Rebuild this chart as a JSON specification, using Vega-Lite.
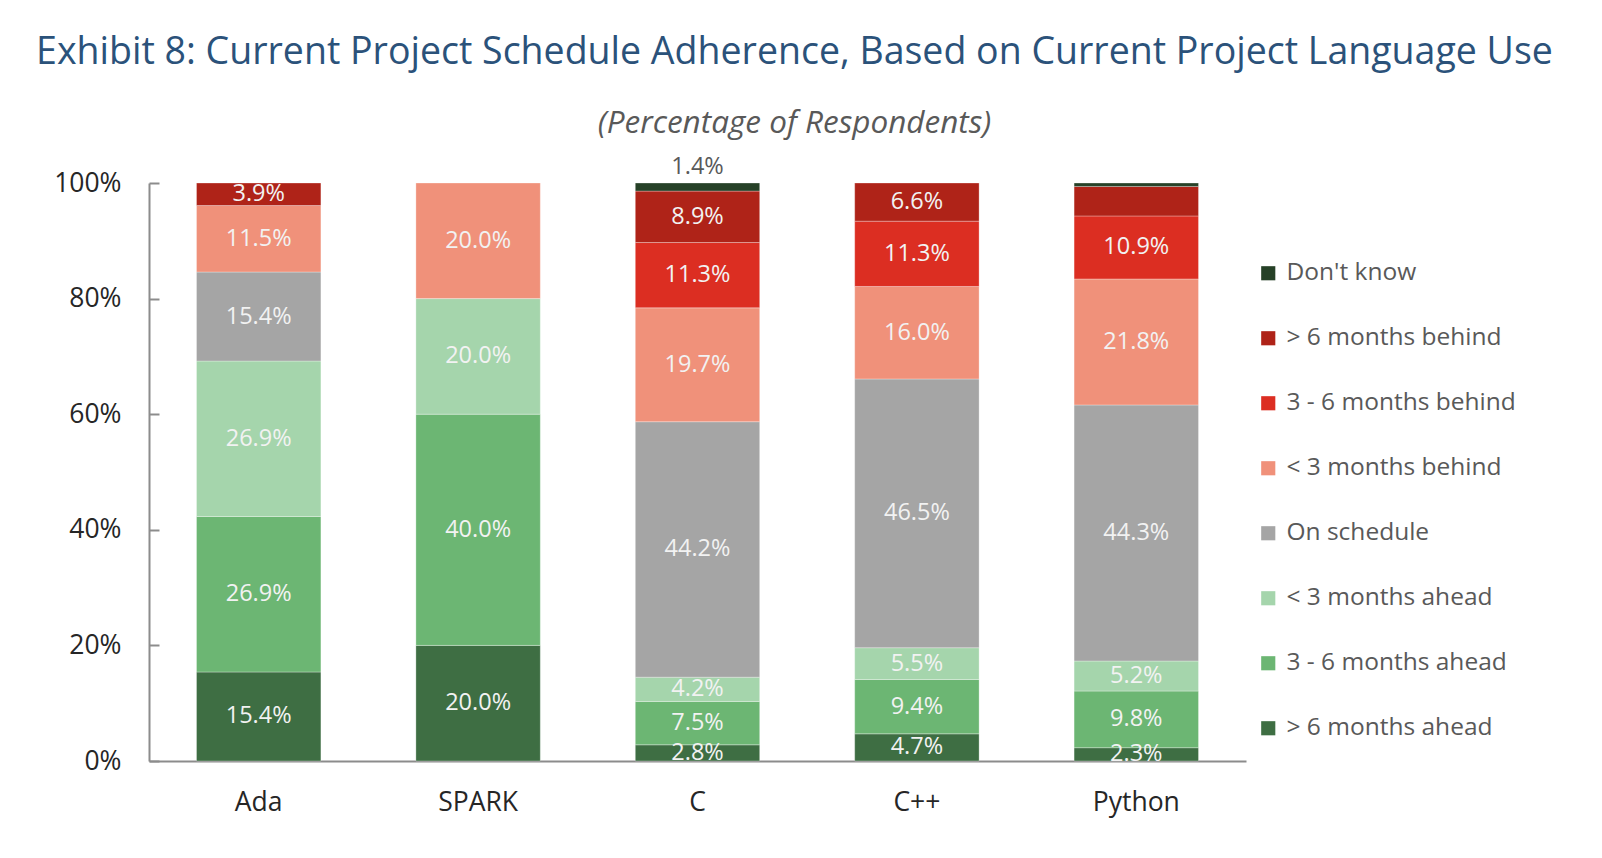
{
  "$schema": "https://vega.github.io/schema/vega-lite/v6.json",
  "autosize": "none",
  "width": 1097,
  "height": 578,
  "padding": {"left": 149, "top": 183, "right": 356, "bottom": 97},
  "background": "white",
  "view": {"stroke": null},
  "title": {
    "text": "Exhibit 8: Current Project Schedule Adherence, Based on Current Project Language Use",
    "subtitle": "(Percentage of Respondents)",
    "anchor": "middle",
    "frame": "group",
    "dx": 97,
    "offset": 16,
    "font": "Open Sans",
    "fontSize": 37.5,
    "fontWeight": "normal",
    "color": "#2B527A",
    "subtitleFont": "Open Sans",
    "subtitleFontSize": 31.5,
    "subtitleFontStyle": "italic",
    "subtitleColor": "#595959",
    "subtitlePadding": 36
  },
  "data": {
    "values": [
      {"lang": "Ada", "status": "> 6 months ahead", "pct": 15.4, "labelled": true},
      {"lang": "Ada", "status": "3 - 6 months ahead", "pct": 26.9, "labelled": true},
      {"lang": "Ada", "status": "< 3 months ahead", "pct": 26.9, "labelled": true},
      {"lang": "Ada", "status": "On schedule", "pct": 15.4, "labelled": true},
      {"lang": "Ada", "status": "< 3 months behind", "pct": 11.5, "labelled": true},
      {"lang": "Ada", "status": "> 6 months behind", "pct": 3.9, "labelled": true},
      {"lang": "SPARK", "status": "> 6 months ahead", "pct": 20.0, "labelled": true},
      {"lang": "SPARK", "status": "3 - 6 months ahead", "pct": 40.0, "labelled": true},
      {"lang": "SPARK", "status": "< 3 months ahead", "pct": 20.0, "labelled": true},
      {"lang": "SPARK", "status": "< 3 months behind", "pct": 20.0, "labelled": true},
      {"lang": "C", "status": "> 6 months ahead", "pct": 2.8, "labelled": true},
      {"lang": "C", "status": "3 - 6 months ahead", "pct": 7.5, "labelled": true},
      {"lang": "C", "status": "< 3 months ahead", "pct": 4.2, "labelled": true},
      {"lang": "C", "status": "On schedule", "pct": 44.2, "labelled": true},
      {"lang": "C", "status": "< 3 months behind", "pct": 19.7, "labelled": true},
      {"lang": "C", "status": "3 - 6 months behind", "pct": 11.3, "labelled": true},
      {"lang": "C", "status": "> 6 months behind", "pct": 8.9, "labelled": true},
      {"lang": "C", "status": "Don't know", "pct": 1.4, "labelled": true},
      {"lang": "C++", "status": "> 6 months ahead", "pct": 4.7, "labelled": true},
      {"lang": "C++", "status": "3 - 6 months ahead", "pct": 9.4, "labelled": true},
      {"lang": "C++", "status": "< 3 months ahead", "pct": 5.5, "labelled": true},
      {"lang": "C++", "status": "On schedule", "pct": 46.5, "labelled": true},
      {"lang": "C++", "status": "< 3 months behind", "pct": 16.0, "labelled": true},
      {"lang": "C++", "status": "3 - 6 months behind", "pct": 11.3, "labelled": true},
      {"lang": "C++", "status": "> 6 months behind", "pct": 6.6, "labelled": true},
      {"lang": "Python", "status": "> 6 months ahead", "pct": 2.3, "labelled": true},
      {"lang": "Python", "status": "3 - 6 months ahead", "pct": 9.8, "labelled": true},
      {"lang": "Python", "status": "< 3 months ahead", "pct": 5.2, "labelled": true},
      {"lang": "Python", "status": "On schedule", "pct": 44.3, "labelled": true},
      {"lang": "Python", "status": "< 3 months behind", "pct": 21.8, "labelled": true},
      {"lang": "Python", "status": "3 - 6 months behind", "pct": 10.9, "labelled": true},
      {"lang": "Python", "status": "> 6 months behind", "pct": 5.1, "labelled": false},
      {"lang": "Python", "status": "Don't know", "pct": 0.6, "labelled": false}
    ]
  },
  "transform": [
    {"calculate": "indexof(['> 6 months ahead','3 - 6 months ahead','< 3 months ahead','On schedule','< 3 months behind','3 - 6 months behind','> 6 months behind','Don\\'t know'], datum.status)", "as": "ord"},
    {"stack": "pct", "groupby": ["lang"], "sort": [{"field": "ord", "order": "ascending"}], "as": ["y0", "y1"]},
    {"calculate": "(datum.y0 + datum.y1) / 2", "as": "mid"},
    {"calculate": "format(datum.pct, '.1f') + '%'", "as": "lbl"}
  ],
  "encoding": {
    "x": {
      "field": "lang",
      "type": "nominal",
      "sort": ["Ada", "SPARK", "C", "C++", "Python"],
      "scale": {"paddingInner": 0.433, "paddingOuter": 0.2165},
      "axis": {
        "title": null,
        "labelAngle": 0,
        "labelFont": "Open Sans",
        "labelFontSize": 26.5,
        "labelColor": "#262626",
        "labelPadding": 28,
        "ticks": false,
        "domainColor": "#8C8C8C",
        "domainWidth": 2
      }
    }
  },
  "layer": [
    {
      "mark": {"type": "bar", "stroke": "white", "strokeWidth": 0.5, "strokeOpacity": 0.6},
      "encoding": {
        "y": {
          "field": "y1",
          "type": "quantitative",
          "scale": {"domain": [0, 100]},
          "axis": {
            "title": null,
            "values": [0, 20, 40, 60, 80, 100],
            "labelExpr": "datum.value + '%'",
            "labelFont": "Open Sans",
            "labelFontSize": 26.5,
            "labelColor": "#262626",
            "labelPadding": 38,
            "grid": false,
            "tickSize": -10,
            "tickColor": "#8C8C8C",
            "tickWidth": 2,
            "domainColor": "#8C8C8C",
            "domainWidth": 2
          }
        },
        "y2": {"field": "y0"},
        "color": {
          "field": "status",
          "type": "nominal",
          "scale": {
            "domain": ["Don't know", "> 6 months behind", "3 - 6 months behind", "< 3 months behind", "On schedule", "< 3 months ahead", "3 - 6 months ahead", "> 6 months ahead"],
            "range": ["#264127", "#AF2318", "#DC2E22", "#F0917A", "#A5A5A5", "#A5D5AC", "#6CB673", "#3E6E43"]
          },
          "legend": {
            "title": null,
            "orient": "none",
            "legendX": 1107,
            "legendY": 78,
            "symbolType": "square",
            "symbolSize": 200,
            "symbolStrokeWidth": 0,
            "labelFont": "Open Sans",
            "labelFontSize": 24.5,
            "labelColor": "#595959",
            "labelOffset": 6,
            "rowPadding": 40,
            "labelLimit": 400
          }
        }
      }
    },
    {
      "transform": [{"filter": "datum.labelled && datum.pct >= 2"}],
      "mark": {"type": "text", "font": "Open Sans", "fontSize": 23.5, "color": "#F2F2F2", "baseline": "middle"},
      "encoding": {
        "y": {"field": "mid", "type": "quantitative"},
        "text": {"field": "lbl"}
      }
    },
    {
      "transform": [{"filter": "datum.labelled && datum.pct < 2"}],
      "mark": {"type": "text", "font": "Open Sans", "fontSize": 23.5, "color": "#595959", "baseline": "bottom", "dy": -4},
      "encoding": {
        "y": {"field": "y1", "type": "quantitative"},
        "text": {"field": "lbl"}
      }
    }
  ]
}
